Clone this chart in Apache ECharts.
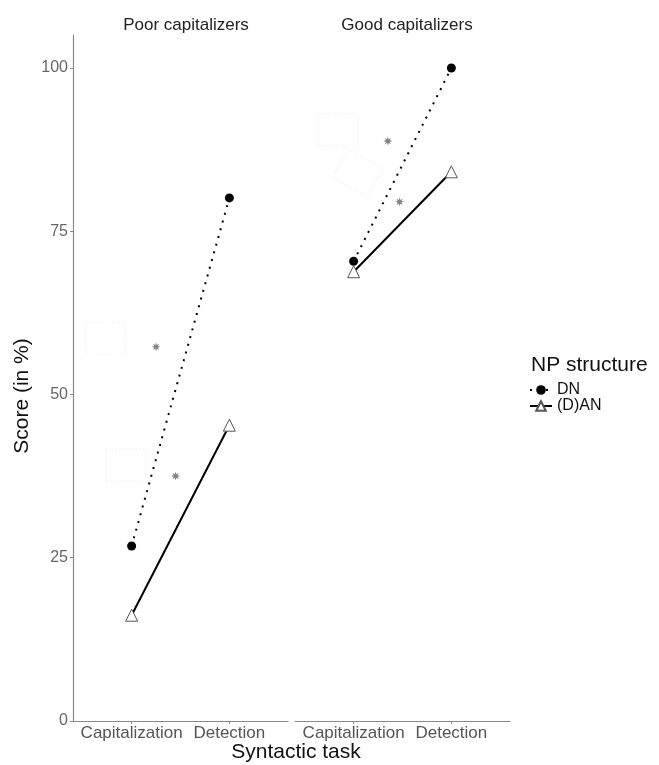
<!DOCTYPE html>
<html><head><meta charset="utf-8">
<script src="https://cdn.jsdelivr.net/npm/echarts@6/dist/echarts.min.js"></script>
<style>html,body{margin:0;padding:0;background:#fff}#c{width:659px;height:765px}</style>
</head><body><div id="c"></div>
<script>
// ---- data ----
const tasks = ['Capitalization', 'Detection'];
const groups = ['Poor capitalizers', 'Good capitalizers'];
const seriesNames = ['DN', '(D)AN'];
const dnScores = [[26.8, 80.1], [70.4, 100.0]];
const danScores = [[16.2, 45.3], [68.8, 84.1]];
const starX = [[1.25, 1.45], [1.35, 1.47]];
const starY = [[57.3, 37.5], [88.8, 79.5]];
const boxX = [[0.73, 0.94], [0.84, 1.04]];
const boxY = [[58.6, 39.2], [90.5, 83.9]];
const boxRot = [[0, 0], [0, -30]];
const yTicks = [0, 25, 50, 75, 100];

// ---- styles ----
const font = 'Liberation Sans, Arial, sans-serif';
function starPath() {
  let p = '';
  for (let i = 0; i < 16; i++) {
    const a = i * Math.PI / 8;
    const r = i % 2 === 0 ? 10 : 4.5;
    p += (i === 0 ? 'M' : 'L') + (r * Math.cos(a)).toFixed(2) + ',' + (r * Math.sin(a)).toFixed(2);
  }
  return 'path://' + p + 'Z';
}
const STAR = starPath();

const chart = echarts.init(document.getElementById('c'), null, {renderer: 'canvas'});
const grids = [
  {left: 73, width: 215, top: 35, bottom: 44},
  {left: 295, width: 215, top: 35, bottom: 44}
];
const xAxes = [], yAxes = [], series = [];
groups.forEach((g, gi) => {
  xAxes.push({
    type: 'value', gridIndex: gi, min: 0.4, max: 2.6,
    axisLine: {show: true, lineStyle: {color: '#8a8a8a', width: 1.2}},
    axisTick: {show: true, length: 3, customValues: [1, 2], lineStyle: {color: '#8a8a8a'}},
    axisLabel: {customValues: [1, 2], formatter: v => tasks[Math.round(v) - 1], color: '#555',
      fontFamily: font, fontSize: 17, margin: 4},
    splitLine: {show: false}
  });
  yAxes.push({
    type: 'value', gridIndex: gi, min: 0, max: 105.05,
    axisLine: {show: gi === 0, lineStyle: {color: '#8a8a8a', width: 1.2}},
    axisTick: {show: gi === 0, length: 3, customValues: yTicks, lineStyle: {color: '#8a8a8a'}},
    axisLabel: {show: gi === 0, customValues: yTicks, color: '#666', fontFamily: font, fontSize: 16, margin: 5},
    splitLine: {show: false}
  });
  series.push({
    name: seriesNames[0], type: 'line', xAxisIndex: gi, yAxisIndex: gi,
    data: tasks.map((t, i) => [i + 1, dnScores[gi][i]]),
    symbol: 'circle', symbolSize: 9,
    itemStyle: {color: '#000'},
    lineStyle: {color: '#000', width: 2, type: [2, 6]},
    z: 3
  });
  series.push({
    name: seriesNames[1], type: 'line', xAxisIndex: gi, yAxisIndex: gi,
    data: tasks.map((t, i) => [i + 1, danScores[gi][i]]),
    symbol: 'triangle', symbolSize: 12,
    itemStyle: {color: '#fff', borderColor: '#555', borderWidth: 1},
    lineStyle: {color: '#000', width: 2, type: 'solid'},
    z: 4
  });
  series.push({
    name: 'stars', type: 'scatter', xAxisIndex: gi, yAxisIndex: gi,
    data: starX[gi].map((x, i) => [x, starY[gi][i]]),
    symbol: STAR, symbolSize: 9, itemStyle: {color: '#666'}, z: 2
  });
  series.push({
    name: 'boxes', type: 'scatter', xAxisIndex: gi, yAxisIndex: gi,
    data: boxX[gi].map((x, i) => ({value: [x, boxY[gi][i]], symbolRotate: boxRot[gi][i]})),
    symbol: 'rect', symbolSize: [40, 32],
    itemStyle: {color: 'rgba(255,255,255,0)', borderColor: '#e6e6e6', borderWidth: 1, borderType: [1, 2]},
    z: 1
  });
});

chart.setOption({
  animation: false,
  backgroundColor: '#fff',
  grid: grids,
  xAxis: xAxes,
  yAxis: yAxes,
  series: series,
  title: [
    {text: groups[0], left: 181, top: 12, textAlign: 'center', textStyle: {fontFamily: font, fontSize: 17, fontWeight: 'normal', color: '#222'}},
    {text: groups[1], left: 402, top: 12, textAlign: 'center', textStyle: {fontFamily: font, fontSize: 17, fontWeight: 'normal', color: '#222'}},
    {text: 'NP structure', left: 526, top: 350, textStyle: {fontFamily: font, fontSize: 21, fontWeight: 'normal', color: '#111'}},
    {text: 'Syntactic task', left: 291, top: 737, textAlign: 'center', textStyle: {fontFamily: font, fontSize: 21, fontWeight: 'normal', color: '#111'}}
  ],
  graphic: [{
    type: 'text', x: 22, y: 396, rotation: Math.PI / 2, style: {text: 'Score (in %)', font: '21px ' + font, fill: '#111', align: 'center', verticalAlign: 'middle'}
  }],
  legend: {
    data: seriesNames, orient: 'vertical', left: 524, top: 377, itemGap: 0,
    itemWidth: 22, itemHeight: 12,
    textStyle: {fontFamily: font, fontSize: 16, color: '#111'}
  }
});
</script></body></html>
